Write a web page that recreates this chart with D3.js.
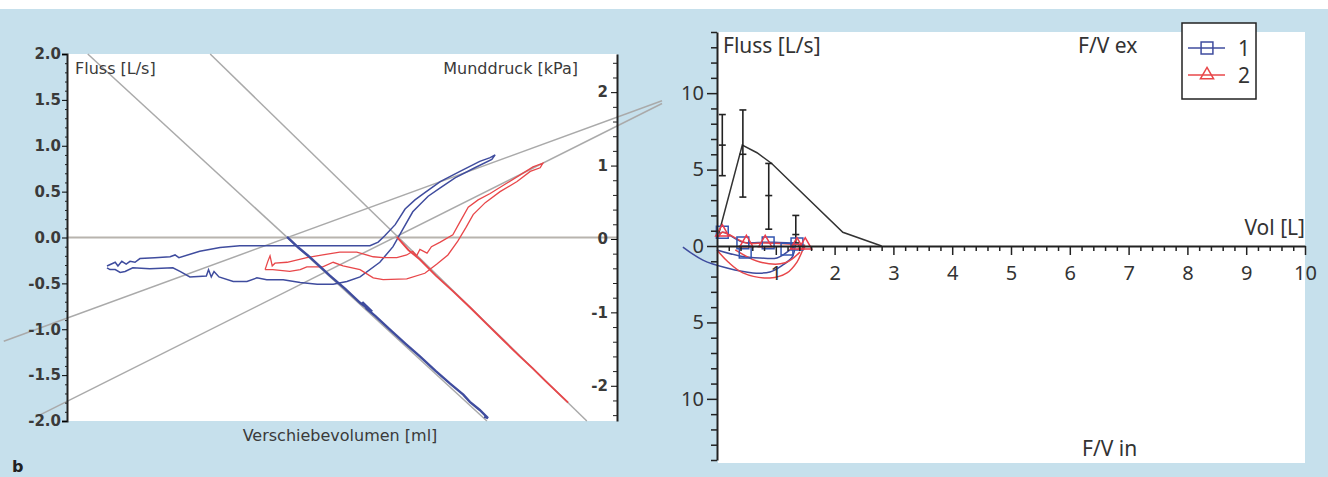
<!DOCTYPE html>
<html>
<head>
<meta charset="utf-8">
<script src="https://cdn.jsdelivr.net/npm/d3@7"></script>
<style>
  body { margin: 0; background: #c6e0ec; }
  svg { display: block; }
</style>
</head>
<body>
<svg id="chart" width="1328" height="477"></svg>
<script>
// ---- left panel: shift volume (ml), flow (L/s), mouth pressure (kPa)
const flowTicks = [-2, -1.5, -1, -0.5, 0, 0.5, 1, 1.5, 2];
const pressTicks = [-2, -1, 0, 1, 2];

// regression lines: [[vol, value], [vol, value]]
const fitFlow = [
  [[-11.7, -1.13], [108.2, 1.49]],
  [[-6.0, -1.96], [108.2, 1.46]]
];
const fitPress = [
  [[3.6, 2.52], [76.3, -2.48]],
  [[25.9, 2.52], [94.5, -2.48]]
];

// sRaw loop, measurement 1 (flow)
const blueLoop = [
  [7.1, -0.31], [8.6, -0.27], [9.1, -0.31], [9.8, -0.26], [10.6, -0.29], [11.3, -0.26], [12.2, -0.27],
  [13.1, -0.23], [15.8, -0.22], [18.6, -0.21], [19.5, -0.19], [20.2, -0.22], [24.0, -0.15], [27.7, -0.11],
  [31.3, -0.09], [35.0, -0.09], [42.3, -0.09], [49.5, -0.09], [55.0, -0.09], [56.5, -0.05], [57.7, 0.02],
  [59.6, 0.14], [61.4, 0.31], [63.2, 0.41], [65.0, 0.49], [67.8, 0.61], [71.4, 0.72], [75.0, 0.83],
  [76.9, 0.87], [77.8, 0.9], [77.2, 0.85], [74.1, 0.76], [70.5, 0.65], [67.8, 0.54], [65.6, 0.45],
  [64.1, 0.36], [62.8, 0.28], [61.0, 0.09], [59.2, -0.10], [56.8, -0.27], [53.2, -0.43], [50.8, -0.48],
  [48.3, -0.51], [45.4, -0.51], [42.3, -0.49], [39.2, -0.46], [36.2, -0.46], [34.4, -0.44], [32.6, -0.48],
  [30.1, -0.48], [27.5, -0.43], [26.6, -0.37], [26.1, -0.43], [25.6, -0.35], [25.2, -0.42], [22.2, -0.43],
  [20.4, -0.37], [19.1, -0.33], [14.9, -0.34], [11.8, -0.33], [10.4, -0.37], [9.5, -0.38], [8.6, -0.35],
  [7.65, -0.35], [7.1, -0.33]
];

// sRaw loop, measurement 2 (flow)
const redLoop = [
  [35.9, -0.35], [36.4, -0.26], [36.8, -0.2], [37.2, -0.31], [37.7, -0.28], [39.9, -0.27], [43.5, -0.22],
  [46.4, -0.19], [49.5, -0.16], [52.6, -0.16], [55.6, -0.21], [57.4, -0.22], [59.9, -0.22], [61.7, -0.19],
  [62.8, -0.15], [63.5, -0.2], [64.1, -0.13], [65.4, -0.17], [66.2, -0.1], [67.8, -0.05], [70.1, 0.03],
  [71.4, 0.17], [72.9, 0.33], [74.7, 0.41], [76.9, 0.48], [79.6, 0.58], [82.3, 0.68], [84.7, 0.77],
  [86.5, 0.81], [86.0, 0.76], [84.2, 0.72], [81.8, 0.61], [78.7, 0.50], [76.0, 0.38], [73.8, 0.25],
  [72.5, 0.11], [71.0, -0.04], [69.2, -0.19], [67.2, -0.29], [65.0, -0.39], [61.7, -0.45], [57.4, -0.46],
  [55.6, -0.44], [53.2, -0.35], [50.1, -0.31], [48.3, -0.27], [46.4, -0.32], [43.5, -0.32], [42.3, -0.35],
  [40.4, -0.37], [37.3, -0.35], [35.9, -0.35]
];

// occlusion traces (pressure)
const bluePress = [
  [39.9, 0.03], [42.0, -0.12], [44.1, -0.25], [47.7, -0.50], [50.5, -0.68], [53.2, -0.87], [55.4, -0.99],
  [53.6, -0.86], [54.4, -0.95], [56.0, -1.05], [58.7, -1.24], [61.5, -1.43], [64.1, -1.60], [67.0, -1.80],
  [69.6, -1.97], [72.0, -2.12], [73.2, -2.22], [75.0, -2.33], [76.5, -2.44], [75.8, -2.42]
];
const redPress = [
  [59.9, 0.03], [62.0, -0.15], [64.1, -0.28], [67.0, -0.50], [70.1, -0.71], [73.2, -0.93], [76.3, -1.16],
  [79.3, -1.38], [82.3, -1.60], [84.6, -1.76], [86.9, -1.93], [89.0, -2.08], [91.1, -2.23]
];

// ---- right panel: flow-volume (Vol L, flow L/s; inspiration negative)
const fvTicksX = [1, 2, 3, 4, 5, 6, 7, 8, 9, 10];
const fvTicksY = [-10, -5, 0, 5, 10];
const meanEx = [[0.03, 0.8], [0.43, 6.6], [0.68, 6.1], [0.93, 5.4], [2.14, 0.9], [2.8, 0]];
const errX = [0.09, 0.44, 0.88, 1.34];
const errMean = [6.6, 6.0, 3.3, 0.75];
const errLo = [4.6, 3.2, 1.1, 0.2];
const errHi = [8.6, 8.9, 5.4, 2.0];

const blueEx = [[0, 0.5], [0.09, 0.9], [0.44, 0.25], [0.87, 0.25], [1.36, 0.12], [1.4, 0]];
const blueIn = [[-0.58, -0.07], [-0.24, -0.92], [0.17, -1.44], [0.61, -1.76], [0.9, -1.7], [1.12, -1.24], [1.28, -0.72], [1.33, 0]];
const blueIn2 = [[0, -0.26], [0.39, -0.65], [0.73, -0.78], [1.02, -0.78], [1.24, -0.26], [1.36, 0.13]];
const redEx = [[0.03, 0.6], [0.09, 0.9], [0.5, 0.2], [0.82, 0.2], [1.36, 0.1], [1.5, 0.05]];
const redIn = [[0, -0.26], [0.19, -1.05], [0.44, -1.76], [0.9, -2.09], [1.19, -1.76], [1.36, -1.05], [1.46, -0.26], [1.5, 0]];
const redIn2 = [[0.31, -0.26], [0.73, -1.05], [1.16, -1.1], [1.41, -0.4]];
const blueSq = [[0.09, 0.9], [0.44, 0.2], [0.48, -0.4], [0.87, 0.2], [1.19, -0.2], [1.36, 0.13]];
const redTri = [[0.09, 0.9], [0.5, 0.2], [0.82, 0.2], [1.36, 0.05], [1.5, 0.05]];

const BLUE = '#3f4c9e';
const RED = '#e8474a';
const GRAY = '#aaaaaa';

const svg = d3.select('#chart');
svg.append('rect').attr('width', 1328).attr('height', 477).attr('fill', '#c6e0ec');
svg.append('rect').attr('width', 1328).attr('height', 9).attr('fill', '#fff');

// ================= left panel =================
const xL = d3.scaleLinear().domain([0, 100]).range([68, 617]);
const yFlow = d3.scaleLinear().domain([-2, 2]).range([421, 54]);
const yPress = d3.scaleLinear().domain([-2.48, 2.52]).range([421, 54]);

svg.append('rect')
  .attr('x', 68).attr('y', 54)
  .attr('width', 549).attr('height', 367)
  .attr('fill', '#fff');

// zero line
svg.append('line')
  .attr('x1', xL(0)).attr('x2', xL(100))
  .attr('y1', yFlow(0)).attr('y2', yFlow(0))
  .attr('stroke', '#b8b4ae').attr('stroke-width', 2);

const lineFlow = d3.line().x(d => xL(d[0])).y(d => yFlow(d[1]));
const linePress = d3.line().x(d => xL(d[0])).y(d => yPress(d[1]));

fitFlow.forEach(seg => {
  svg.append('path').attr('d', lineFlow(seg))
    .attr('stroke', GRAY).attr('stroke-width', 1.5).attr('fill', 'none');
});
fitPress.forEach(seg => {
  svg.append('path').attr('d', linePress(seg))
    .attr('stroke', GRAY).attr('stroke-width', 1.5).attr('fill', 'none');
});

svg.append('path').attr('d', lineFlow(blueLoop))
  .attr('stroke', BLUE).attr('stroke-width', 1.5).attr('fill', 'none');
svg.append('path').attr('d', lineFlow(redLoop))
  .attr('stroke', RED).attr('stroke-width', 1.3).attr('fill', 'none');
svg.append('path').attr('d', linePress(bluePress))
  .attr('stroke', BLUE).attr('stroke-width', 2.4).attr('fill', 'none');
svg.append('path').attr('d', linePress(redPress))
  .attr('stroke', RED).attr('stroke-width', 1.9).attr('fill', 'none');

// left axis
const minorFlow = d3.range(-20, 21).map(d => d / 10).filter(d => !flowTicks.some(t => Math.abs(t - d) < 1e-9));
svg.append('g')
  .attr('transform', 'translate(67,0)')
  .call(d3.axisLeft(yFlow).tickValues(minorFlow).tickSize(2).tickSizeOuter(0).tickFormat(''))
  .call(g => g.select('.domain').remove())
  .selectAll('line').attr('stroke', '#222');
svg.append('g')
  .attr('transform', 'translate(67,0)')
  .call(d3.axisLeft(yFlow).tickValues(flowTicks).tickSize(5).tickSizeOuter(5).tickPadding(1)
    .tickFormat(d => d.toFixed(1)))
  .call(g => g.select('.domain').attr('stroke', '#222').attr('stroke-width', 2))
  .call(g => g.selectAll('text')
    .attr('font-family', 'DejaVu Sans, sans-serif')
    .attr('font-size', 15).attr('font-weight', 'bold').attr('fill', '#3a3a3a'));

// right axis (pressure)
const minorPress = d3.range(-12, 13).map(d => d / 5).filter(d => !pressTicks.some(t => Math.abs(t - d) < 1e-9));
svg.append('g')
  .attr('transform', 'translate(617,0)')
  .call(d3.axisLeft(yPress).tickValues(minorPress).tickSize(4).tickSizeOuter(0).tickFormat(''))
  .call(g => g.select('.domain').attr('stroke', '#222').attr('stroke-width', 2))
  .selectAll('line').attr('stroke', '#222');
svg.append('g')
  .attr('transform', 'translate(617,0)')
  .call(d3.axisLeft(yPress).tickValues(pressTicks).tickSize(6).tickSizeOuter(0).tickPadding(3)
    .tickFormat(d => String(d)))
  .call(g => g.select('.domain').remove())
  .call(g => g.selectAll('text')
    .attr('font-family', 'DejaVu Sans, sans-serif')
    .attr('font-size', 15).attr('font-weight', 'bold').attr('fill', '#3a3a3a'));

const leftText = (x, y, t, anchor) => svg.append('text')
  .attr('x', x).attr('y', y).attr('text-anchor', anchor || 'start')
  .attr('font-family', 'DejaVu Sans, sans-serif').attr('font-size', 16)
  .attr('fill', '#3a3a3a').text(t);
leftText(75, 74, 'Fluss [L/s]');
leftText(578, 74, 'Munddruck [kPa]', 'end');
leftText(340, 441, 'Verschiebevolumen [ml]', 'middle');
svg.append('text').attr('x', 12).attr('y', 472)
  .attr('font-family', 'DejaVu Sans, sans-serif').attr('font-size', 16)
  .attr('font-weight', 'bold').attr('fill', '#222').text('b');

// ================= right panel =================
const xR = d3.scaleLinear().domain([0, 10]).range([717, 1305]);
const yR = d3.scaleLinear().domain([-14, 14]).range([460, 32]);

svg.append('rect')
  .attr('x', 718).attr('y', 32)
  .attr('width', 587).attr('height', 431)
  .attr('fill', '#fff');

const lineR = d3.line().x(d => xR(d[0])).y(d => yR(d[1]));

svg.append('path').attr('d', lineR(meanEx))
  .attr('stroke', '#333').attr('stroke-width', 1.5).attr('fill', 'none');

errX.forEach((x, i) => {
  const g = svg.append('g').attr('stroke', '#222').attr('stroke-width', 1.6);
  g.append('line').attr('x1', xR(x)).attr('x2', xR(x)).attr('y1', yR(errLo[i])).attr('y2', yR(errHi[i]));
  [errLo[i], errHi[i], errMean[i]].forEach(v => {
    g.append('line').attr('x1', xR(x) - 3.5).attr('x2', xR(x) + 3.5).attr('y1', yR(v)).attr('y2', yR(v));
  });
});

const curveR = d3.line().x(d => xR(d[0])).y(d => yR(d[1])).curve(d3.curveCatmullRom);
[[blueEx, BLUE], [blueIn, BLUE], [blueIn2, BLUE], [redEx, RED], [redIn, RED], [redIn2, RED]].forEach(([pts, c]) => {
  svg.append('path').attr('d', curveR(pts))
    .attr('stroke', c).attr('stroke-width', 1.5).attr('fill', 'none');
});

const sq = d3.symbol(d3.symbolSquare, 140);
const tri = d3.symbol(d3.symbolTriangle, 75);
svg.selectAll('.sq').data(blueSq).enter().append('path')
  .attr('class', 'sq').attr('d', sq)
  .attr('transform', d => `translate(${xR(d[0])},${yR(d[1])})`)
  .attr('fill', 'none').attr('stroke', '#3355b0').attr('stroke-width', 1.5);
svg.selectAll('.tri').data(redTri).enter().append('path')
  .attr('class', 'tri').attr('d', tri)
  .attr('transform', d => `translate(${xR(d[0])},${yR(d[1])})`)
  .attr('fill', 'none').attr('stroke', '#ee3b4a').attr('stroke-width', 1.5);

// y axis
const minorFvY = d3.range(-14, 15).filter(d => d % 5 !== 0);
svg.append('g')
  .attr('transform', 'translate(717,0)')
  .call(d3.axisLeft(yR).tickValues(minorFvY).tickSize(6).tickSizeOuter(0).tickFormat(''))
  .call(g => g.select('.domain').attr('stroke', '#222').attr('stroke-width', 2))
  .selectAll('line').attr('stroke', '#222').attr('stroke-width', 1.5);
svg.append('g')
  .attr('transform', 'translate(717,0)')
  .call(d3.axisLeft(yR).tickValues(fvTicksY).tickSize(10).tickSizeOuter(0).tickPadding(3)
    .tickFormat(d => String(Math.abs(d))))
  .call(g => g.select('.domain').remove())
  .call(g => g.selectAll('line').attr('stroke', '#222').attr('stroke-width', 1.5))
  .call(g => g.selectAll('text')
    .attr('font-family', 'Noto Sans, sans-serif').attr('font-size', 20).attr('fill', '#333'));

// x axis
const minorFvX = d3.range(1, 51).map(d => d / 5).filter(d => Math.abs(d - Math.round(d)) > 1e-9);
svg.append('g')
  .attr('transform', `translate(0,${yR(0)})`)
  .call(d3.axisBottom(xR).tickValues(minorFvX).tickSize(5).tickSizeOuter(0).tickFormat(''))
  .call(g => g.select('.domain').attr('stroke', '#222').attr('stroke-width', 2))
  .selectAll('line').attr('stroke', '#222').attr('stroke-width', 1.5);
svg.append('g')
  .attr('transform', `translate(0,${yR(0)})`)
  .call(d3.axisBottom(xR).tickValues(fvTicksX).tickSize(9).tickSizeOuter(0).tickPadding(11)
    .tickFormat(d => String(d)))
  .call(g => g.select('.domain').remove())
  .call(g => g.selectAll('line').attr('stroke', '#222').attr('stroke-width', 1.5))
  .call(g => g.selectAll('text')
    .attr('font-family', 'Noto Sans, sans-serif').attr('font-size', 20).attr('fill', '#333'));

const rightText = (x, y, t, anchor) => svg.append('text')
  .attr('x', x).attr('y', y).attr('text-anchor', anchor || 'start')
  .attr('font-family', 'Noto Sans, sans-serif').attr('font-size', 21)
  .attr('fill', '#333').text(t);
rightText(723, 53, 'Fluss [L/s]');
rightText(1078, 53, 'F/V ex');
rightText(1305, 235, 'Vol [L]', 'end');
rightText(1082, 456, 'F/V in');

// legend
const leg = svg.append('g');
leg.append('rect').attr('x', 1182).attr('y', 23).attr('width', 74).attr('height', 76)
  .attr('fill', '#fff').attr('stroke', '#222').attr('stroke-width', 1.5);
[['1', BLUE, sq, 48], ['2', RED, tri, 75]].forEach(([lbl, c, sym, y]) => {
  leg.append('line').attr('x1', 1188).attr('x2', 1225).attr('y1', y).attr('y2', y)
    .attr('stroke', c).attr('stroke-width', 1.4);
  leg.append('path').attr('d', sym).attr('transform', `translate(1207,${y})`)
    .attr('fill', 'none').attr('stroke', c).attr('stroke-width', 1.5);
  leg.append('text').attr('x', 1238).attr('y', y + 8)
    .attr('font-family', 'Noto Sans, sans-serif').attr('font-size', 21)
    .attr('fill', '#333').text(lbl);
});
</script>
</body>
</html>
